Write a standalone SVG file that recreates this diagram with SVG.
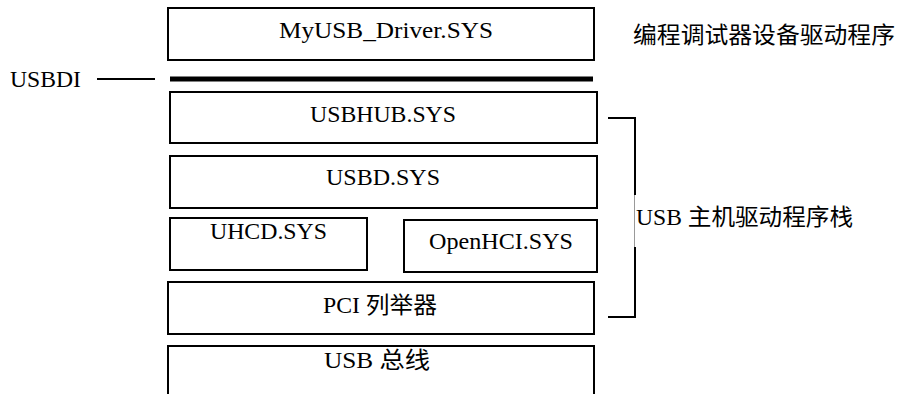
<svg xmlns="http://www.w3.org/2000/svg" width="897" height="394" viewBox="0 0 897 394">
  <style>
    .box { fill: #ffffff; stroke: #000000; stroke-width: 2; }
    .lbl { font-family: "Times New Roman", Times, "Liberation Serif", "Noto Serif", "DejaVu Serif", serif; font-size: 23px; fill: #000000; }
    .cjk { font-family: "Times New Roman", Times, "Liberation Serif", "Noto Sans CJK SC", serif; }
    .mid { text-anchor: middle; }
    .ln { stroke: #000000; fill: none; }
  </style>
  <rect width="897" height="394" fill="#ffffff"/>

  <!-- driver stack layers -->
  <g id="myusb-driver">
    <rect class="box" x="168" y="8" width="426" height="52"/>
    <text class="lbl mid" x="386" y="38" textLength="214" lengthAdjust="spacingAndGlyphs">MyUSB_Driver.SYS</text>
  </g>
  <g id="usbhub">
    <rect class="box" x="170" y="92" width="427" height="51"/>
    <text class="lbl mid" x="383" y="122" textLength="146" lengthAdjust="spacingAndGlyphs">USBHUB.SYS</text>
  </g>
  <g id="usbd">
    <rect class="box" x="170" y="156" width="427" height="52"/>
    <text class="lbl mid" x="383" y="185" textLength="114" lengthAdjust="spacingAndGlyphs">USBD.SYS</text>
  </g>
  <g id="uhcd">
    <rect class="box" x="170" y="218" width="197" height="52"/>
    <text class="lbl mid" x="268.5" y="239" textLength="117" lengthAdjust="spacingAndGlyphs">UHCD.SYS</text>
  </g>
  <g id="openhci">
    <rect class="box" x="404" y="220" width="193" height="52"/>
    <text class="lbl mid" x="501" y="249" textLength="144" lengthAdjust="spacingAndGlyphs">OpenHCI.SYS</text>
  </g>
  <g id="pci-enum">
    <rect class="box" x="168" y="282" width="426" height="52"/>
    <text class="lbl cjk mid" x="380" y="313" textLength="114" lengthAdjust="spacingAndGlyphs">PCI 列举器</text>
  </g>
  <g id="usb-bus">
    <rect class="box" x="168" y="346" width="426" height="60"/>
    <text class="lbl cjk mid" x="377" y="368" textLength="106" lengthAdjust="spacingAndGlyphs">USB 总线</text>
  </g>

  <!-- USBDI interface label -->
  <g id="usbdi">
    <text class="lbl" x="10" y="87" textLength="71" lengthAdjust="spacingAndGlyphs">USBDI</text>
  </g>

  <g id="connectors">
    <line class="ln" x1="97" y1="79" x2="155" y2="79" stroke-width="2"/>
    <line class="ln" x1="170" y1="79" x2="593" y2="79" stroke-width="5"/>
    <!-- bracket around the host driver stack -->
    <polyline class="ln" points="608,118 635,118 635,195" stroke-width="2"/>
    <line x1="634.5" y1="195" x2="634.5" y2="247" stroke="#999999" stroke-width="1"/>
    <polyline class="ln" points="635,247 635,317 608,317" stroke-width="2"/>
  </g>

  <!-- side captions -->
  <g id="caption-driver">
    <text class="lbl cjk" x="633" y="43" textLength="262" lengthAdjust="spacingAndGlyphs">编程调试器设备驱动程序</text>
  </g>
  <g id="caption-stack">
    <text class="lbl cjk" x="636" y="225" textLength="217" lengthAdjust="spacingAndGlyphs">USB 主机驱动程序栈</text>
  </g>
</svg>
